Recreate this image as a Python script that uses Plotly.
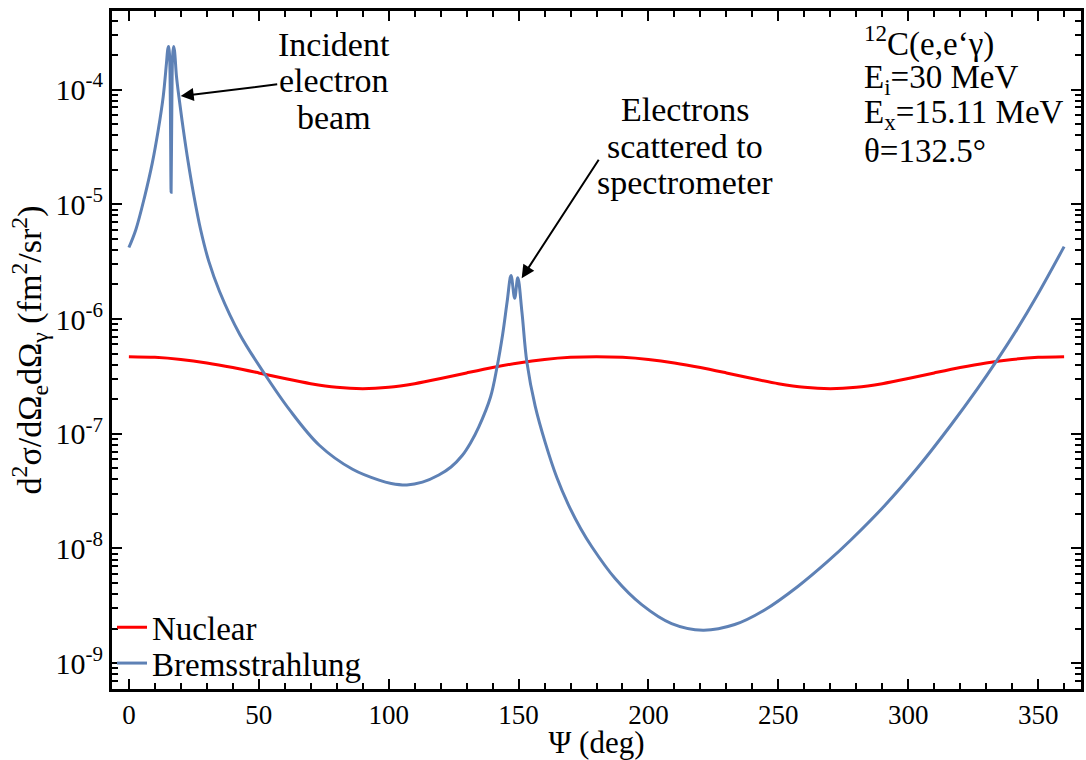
import plotly.graph_objects as go

# ---- data ----
psi_nuclear = [0, 10, 20, 30, 40, 50, 60, 70, 80, 90, 100, 110, 120, 130, 140, 150, 160, 170, 180,
               190, 200, 210, 220, 230, 240, 250, 260, 270, 280, 290, 300, 310, 320, 330, 340, 350, 360]
nuclear = [4.700e-7, 4.633e-7, 4.439e-7, 4.143e-7, 3.779e-7, 3.391e-7, 3.028e-7, 2.731e-7, 2.537e-7, 2.470e-7,
           2.537e-7, 2.731e-7, 3.028e-7, 3.391e-7, 3.779e-7, 4.143e-7, 4.439e-7, 4.633e-7, 4.700e-7,
           4.633e-7, 4.439e-7, 4.143e-7, 3.779e-7, 3.391e-7, 3.028e-7, 2.731e-7, 2.537e-7, 2.470e-7,
           2.537e-7, 2.731e-7, 3.028e-7, 3.391e-7, 3.779e-7, 4.143e-7, 4.439e-7, 4.633e-7, 4.700e-7]

psi_brems = [0, 2.7, 6.1, 9.0, 11.3, 13.2, 14.45, 15.0, 15.3, 15.65, 15.95, 16.25, 16.55, 16.85, 17.2, 17.55,
             18.3, 19.3, 20.9, 22.8, 24.9, 27.6, 30.8, 34.9, 42.6, 52.2, 61.8, 73.3, 86.1, 96.3, 101.0,
             107.0, 113.0, 119.3, 124.0, 128.3, 131.5, 134.7, 139.2, 141.7, 143.9, 145.6, 147.1, 148.5,
             149.7, 151.3, 153.2,
             156.4, 160.3, 164.7, 169.2, 174.0, 178.2, 187.1, 197.4, 208.9, 221.0, 233.2, 244.7, 257.5,
             269.0, 277.9, 290.7, 303.5, 316.3, 326.6, 334.2, 341.9, 349.6, 360]
brems = [4.20e-6, 6.04e-6, 1.175e-5, 2.286e-5, 4.446e-5, 8.65e-5, 1.683e-4, 2.265e-4, 2.371e-4, 1.995e-4,
         7.94e-5, 1.274e-5, 7.94e-5, 1.995e-4, 2.371e-4, 2.188e-4,
         1.318e-4, 8.51e-5, 4.571e-5, 2.344e-5, 1.230e-5, 6.03e-6, 3.162e-6, 1.738e-6, 7.41e-7, 3.334e-7,
         1.622e-7, 7.94e-8, 4.898e-8, 3.936e-8, 3.690e-8,
         3.581e-8, 3.784e-8, 4.365e-8, 5.129e-8, 6.457e-8, 8.318e-8, 1.148e-7, 2.089e-7, 3.802e-7,
         7.413e-7, 1.413e-6, 2.399e-6, 1.514e-6,
         2.291e-6, 1.148e-6, 4.207e-7,
         1.738e-7, 8.318e-8, 4.169e-8, 2.399e-8, 1.479e-8, 1.035e-8, 5.495e-9, 3.236e-9, 2.213e-9,
         1.941e-9, 2.173e-9, 2.911e-9, 4.667e-9,
         7.709e-9, 1.186e-8, 2.333e-8, 5.023e-8, 1.180e-7, 2.460e-7, 4.385e-7, 8.166e-7, 1.603e-6, 4.276e-6]

x_ticks = [0, 50, 100, 150, 200, 250, 300, 350]
y_ticks = [1e-9, 1e-8, 1e-7, 1e-6, 1e-5, 1e-4]
y_ticktext = ["10<sup>-9</sup>", "10<sup>-8</sup>", "10<sup>-7</sup>", "10<sup>-6</sup>",
              "10<sup>-5</sup>", "10<sup>-4</sup>"]
x_minor = [v for v in range(0, 370, 10) if v % 50 != 0]
y_minor = [k * 10.0 ** e for e in range(-10, -3) for k in range(2, 10)]

FONT = "Liberation Serif"
W, H = 1086, 760
L, R, T, B = 112, 1084, 11, 692

def px(xp, yp):
    return (xp - L) / (R - L), (B - yp) / (B - T)

fig = go.Figure()
fig.add_trace(go.Scatter(x=psi_nuclear, y=nuclear, mode="lines", name="Nuclear", legend="legend",
                         line=dict(color="#FF0000", width=3, shape="spline", smoothing=0.8)))
fig.add_trace(go.Scatter(x=psi_brems, y=brems, mode="lines", name="Bremsstrahlung", legend="legend2",
                         line=dict(color="#5E81B5", width=3, shape="spline", smoothing=1.0)))

annots = []
def text(xp, yp, s, align="center", size=34):
    x, y = px(xp, yp)
    annots.append(dict(x=x, y=y, xref="paper", yref="paper", text=s, showarrow=False,
                       xanchor=align, yanchor="middle", font=dict(family=FONT, size=size, color="black")))

text(335, 45, "Incident")
text(335, 81, "electron")
text(335, 118, "beam")
text(687, 110, "Electrons")
text(687, 147, "scattered to")
text(687, 183, "spectrometer")
text(864, 42, "<sup>12</sup>C(e,e‘γ)", "left", 33)
text(864, 80, "E<sub>i</sub>=30 MeV", "left", 33)
text(864, 115, "E<sub>x</sub>=15.11 MeV", "left", 33)
text(864, 152, "θ=132.5°", "left", 33)

# arrows (tip in data coordinates, tail offset in pixels)
annots.append(dict(x=19.95, y=-4.057, xref="x", yref="y", ax=98, ay=-12, axref="pixel", ayref="pixel",
                   text="", showarrow=True, arrowhead=2, arrowsize=1.3, arrowwidth=2, arrowcolor="black"))
annots.append(dict(x=151.2, y=-5.644, xref="x", yref="y", ax=78, ay=-120, axref="pixel", ayref="pixel",
                   text="", showarrow=True, arrowhead=2, arrowsize=1.3, arrowwidth=2, arrowcolor="black"))

axis_common = dict(showline=True, linecolor="black", linewidth=3, mirror="allticks",
                   ticks="inside", ticklen=10, tickwidth=2, tickcolor="black",
                   showgrid=False, zeroline=False)

leg_common = dict(xanchor="left", yanchor="middle", bgcolor="rgba(0,0,0,0)",
                  font=dict(family=FONT, size=33), itemwidth=30)

fig.update_layout(
    width=W, height=H,
    margin=dict(l=L, r=W - R, t=T, b=H - B),
    plot_bgcolor="white", paper_bgcolor="white",
    font=dict(family=FONT, size=28, color="black"),
    showlegend=True,
    legend=dict(x=0.0, y=px(0, 630)[1], **leg_common),
    legend2=dict(x=0.0, y=px(0, 666)[1], **leg_common),
    annotations=annots,
    xaxis=dict(range=[-6.5, 366.5], tickmode="array", tickvals=x_ticks,
               tickfont=dict(family=FONT, size=27),
               minor=dict(tickmode="array", tickvals=x_minor, ticks="inside", ticklen=6,
                          tickwidth=2, tickcolor="black", showgrid=False),
               title=dict(text="Ψ (deg)", font=dict(family=FONT, size=31), standoff=6),
               **axis_common),
    yaxis=dict(type="log", range=[-9.225, -3.315], tickmode="array", tickvals=y_ticks,
               ticktext=y_ticktext, tickfont=dict(family=FONT, size=30),
               minor=dict(tickmode="array", tickvals=y_minor, ticks="inside", ticklen=6,
                          tickwidth=2, tickcolor="black", showgrid=False),
               title=dict(text="d<sup>2</sup>σ/dΩ<sub>e</sub>dΩ<sub>γ</sub> (fm<sup>2</sup>/sr<sup>2</sup>)",
                          font=dict(family=FONT, size=34), standoff=4),
               **axis_common),
)

fig.write_html("out.html")
